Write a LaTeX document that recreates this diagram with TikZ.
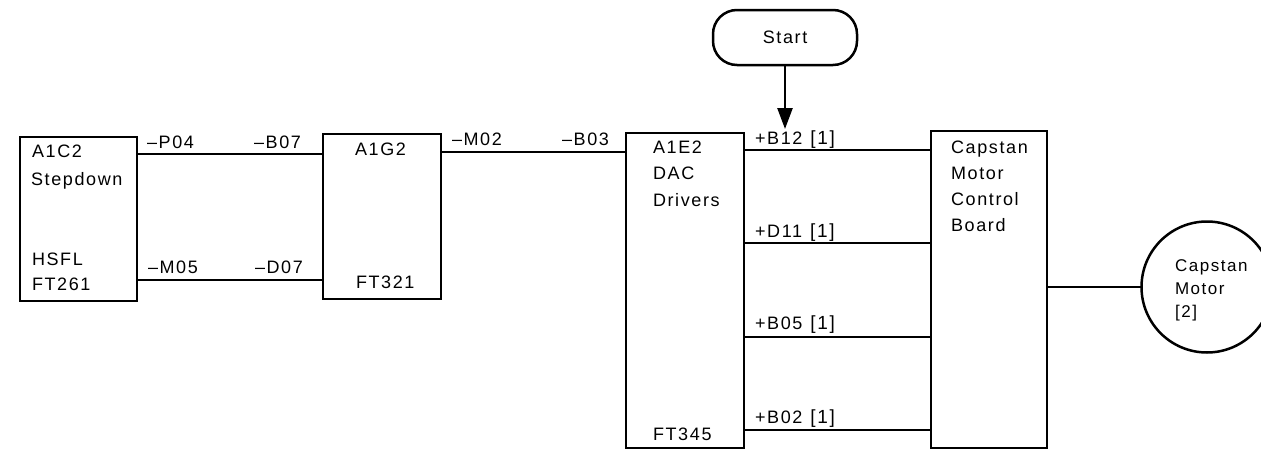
\documentclass[tikz,border=0pt]{standalone}
\usepackage{fontspec}
\setmainfont{Liberation Sans}[LetterSpace=9]
\usetikzlibrary{arrows.meta}
\newcommand{\refno}[1]{\hspace{8pt}{\fontsize{19}{21}\selectfont[#1]}}
\begin{document}
\begin{tikzpicture}[x=1pt,y=-1pt,
  box/.style={draw, line width=2.5pt, inner sep=0pt, outer sep=0pt, anchor=north west},
  lbl/.style={anchor=base west, inner sep=0pt, outer sep=0pt, font=\fontsize{18}{21}\selectfont},
  small/.style={lbl, font=\fontsize{17}{20}\selectfont},
  wire/.style={line width=2pt}]
\useasboundingbox (0,0) rectangle (1261,450);
\clip (0,0) rectangle (1261,450);
% boxes
\node[box, minimum width=117pt, minimum height=164pt] (c2) at (20,137) {};
\node[box, minimum width=118pt, minimum height=165pt] (g2) at (323,134) {};
\node[box, minimum width=118pt, minimum height=315pt] (e2) at (626,133) {};
\node[box, minimum width=116pt, minimum height=317pt] (board) at (931,131) {};
\node[draw, circle, line width=2.5pt, inner sep=0pt, outer sep=0pt, minimum size=131pt] (motor) at (1207,287) {};
\node[draw, line width=2.5pt, rounded corners=24pt, inner sep=0pt, outer sep=0pt,
      minimum width=144pt, minimum height=55pt, font=\fontsize{18}{21}\selectfont] (start) at (785,37.5) {Start};
\coordinate (tip) at (785,129);
\draw[line width=2.5pt, -{Triangle[length=21pt,width=15pt]}] (start.south) -- (tip);
% wires
\draw[wire] (c2.east |- 0,154) -- (g2.west |- 0,154);
\draw[wire] (c2.east |- 0,280) -- (g2.west |- 0,280);
\draw[wire] (g2.east |- 0,152) -- (e2.west |- 0,152);
\draw[wire] (e2.east |- 0,150) -- (board.west |- 0,150);
\draw[wire] (e2.east |- 0,243) -- (board.west |- 0,243);
\draw[wire] (e2.east |- 0,337) -- (board.west |- 0,337);
\draw[wire] (e2.east |- 0,430) -- (board.west |- 0,430);
\draw[wire] (board.east |- motor.west) -- (motor.west);
% texts
\node[lbl] (ta) at (32,157) {A1C2};
\node[lbl] (tb) at (31,185) {Stepdown};
\node[lbl] (tc) at (32,265) {HSFL};
\node[lbl] (td) at (32,290) {FT261};
\node[lbl] (te) at (147,148) {–P04};
\node[lbl] (tf) at (254,148) {–B07};
\node[lbl] (tg) at (148,273) {–M05};
\node[lbl] (th) at (255,273) {–D07};
\node[lbl] (ti) at (355,155) {A1G2};
\node[lbl] (tj) at (356,288) {FT321};
\node[lbl] (tk) at (452,145) {–M02};
\node[lbl] (tl) at (562,145) {–B03};
\node[lbl] (tm) at (653,153) {A1E2};
\node[lbl] (tn) at (653,179) {DAC};
\node[lbl] (to) at (653,206) {Drivers};
\node[lbl] (tp) at (653,440) {FT345};
\node[lbl] (tq) at (755,144) {+B12\refno{1}};
\node[lbl] (tr) at (755,237) {+D11\refno{1}};
\node[lbl] (ts) at (755,329) {+B05\refno{1}};
\node[lbl] (tt) at (755,423) {+B02\refno{1}};
\node[lbl] (tu) at (951,153) {Capstan};
\node[lbl] (tv) at (951,179) {Motor};
\node[lbl] (tw) at (951,205) {Control};
\node[lbl] (tx) at (951,231) {Board};
\node[small] (ty) at (1175,271) {Capstan};
\node[small] (tz) at (1175,294) {Motor};
\node[small] (t2) at (1175,317) {[2]};
\end{tikzpicture}
\end{document}
